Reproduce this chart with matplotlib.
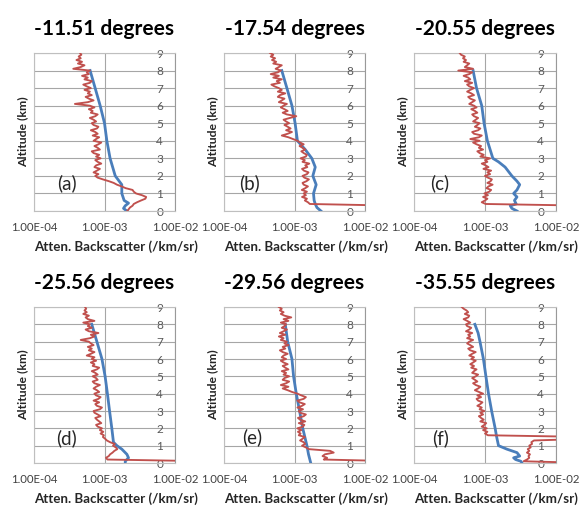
import matplotlib
matplotlib.use("Agg")
import matplotlib.pyplot as plt
import numpy as np

# Altitude grid for the noisy (red) profiles, km
ALT = [0.0, 0.1, 0.2, 0.3, 0.4, 0.5, 0.6, 0.7, 0.8, 0.9,
       1.0, 1.1, 1.2, 1.3, 1.4, 1.5, 1.6, 1.7, 1.8, 1.9,
       2.0, 2.1, 2.2, 2.3, 2.4, 2.5, 2.6, 2.7, 2.8, 2.9,
       3.0, 3.1, 3.2, 3.3, 3.4, 3.5, 3.6, 3.7, 3.8, 3.9,
       4.0, 4.1, 4.2, 4.3, 4.4, 4.5, 4.6, 4.7, 4.8, 4.9,
       5.0, 5.1, 5.2, 5.3, 5.4, 5.5, 5.6, 5.7, 5.8, 5.9,
       6.0, 6.1, 6.2, 6.3, 6.4, 6.5, 6.6, 6.7, 6.8, 6.9,
       7.0, 7.1, 7.2, 7.3, 7.4, 7.5, 7.6, 7.7, 7.8, 7.9,
       8.0, 8.1, 8.2, 8.3, 8.4, 8.5, 8.6, 8.7, 8.8, 8.9, 9.0]

# Red (measured) attenuated backscatter, units of 1e-3 /km/sr
red_a = [2.1, 2.2, 2.3, 2.5, 2.6, 2.9, 3.3, 3.8, 3.9, 3.4,
         2.8, 2.6, 2.5, 2.0, 1.75, 1.5, 1.35, 1.15, 0.95, 0.8,
         0.74, 0.82, 0.7, 0.78, 0.86, 0.72, 0.76, 0.9, 0.8, 0.74,
         0.88, 0.76, 0.84, 0.7, 0.66, 0.86, 0.8, 0.72, 0.82, 0.9,
         0.7, 0.76, 0.84, 0.68, 0.8, 0.74, 0.64, 0.78, 0.82, 0.7,
         0.66, 0.76, 0.7, 0.62, 0.74, 0.8, 0.64, 0.68, 0.6, 0.72,
         0.62, 0.38, 0.58, 0.7, 0.6, 0.54, 0.66, 0.58, 0.62, 0.52,
         0.64, 0.56, 0.5, 0.62, 0.66, 0.52, 0.58, 0.48, 0.6, 0.56,
         0.62, 0.36, 0.46, 0.52, 0.42, 0.48, 0.4, 0.46, 0.43, 0.47, 0.45]
red_b = [30, 30, 30, 30, 1.65, 1.55, 1.4, 1.5, 1.28, 1.45,
         1.35, 1.5, 1.27, 1.42, 1.55, 1.35, 1.3, 1.48, 1.6, 1.38,
         1.3, 1.5, 1.58, 1.36, 1.28, 1.52, 1.42, 1.62, 1.3, 1.4,
         1.22, 1.45, 1.5, 1.35, 1.25, 1.42, 1.3, 1.18, 1.35, 1.2,
         1.1, 0.95, 0.82, 0.66, 0.8, 0.92, 0.76, 0.88, 0.8, 0.72,
         0.84, 0.76, 0.7, 0.86, 1.06, 0.78, 0.68, 0.8, 0.72, 0.64,
         0.7, 0.78, 0.6, 0.66, 0.72, 0.58, 0.62, 0.74, 0.58, 0.66,
         0.6, 0.52, 0.47, 0.62, 0.56, 0.66, 0.5, 0.6, 0.46, 0.58,
         0.64, 0.54, 0.6, 0.66, 0.5, 0.55, 0.48, 0.53, 0.46, 0.5, 0.45]
red_c = [30, 30, 30, 30, 1.02, 0.9, 1.0, 1.08, 0.94, 1.1,
         0.98, 1.15, 1.22, 1.05, 1.12, 1.28, 1.08, 1.2, 1.25, 1.1,
         1.0, 1.18, 1.08, 1.22, 0.95, 1.12, 1.02, 0.9, 1.08, 1.0,
         1.18, 0.86, 0.96, 0.84, 0.78, 0.94, 0.82, 0.88, 0.76, 0.68,
         0.84, 0.62, 0.82, 0.9, 0.7, 0.66, 0.8, 0.86, 0.72, 0.78,
         0.84, 0.68, 0.74, 0.8, 0.7, 0.66, 0.78, 0.72, 0.64, 0.76,
         0.7, 0.6, 0.66, 0.72, 0.62, 0.58, 0.7, 0.64, 0.56, 0.62,
         0.7, 0.6, 0.56, 0.66, 0.52, 0.62, 0.58, 0.5, 0.6, 0.66,
         0.42, 0.68, 0.52, 0.56, 0.6, 0.5, 0.54, 0.49, 0.52, 0.46, 0.44]
red_d = [30, 30, 1.1, 1.05, 1.15, 1.2, 1.3, 1.38, 1.52, 1.45,
         1.32, 1.4, 1.2, 1.08, 1.02, 0.95, 0.98, 0.88, 0.96, 0.86,
         0.92, 0.8, 0.76, 0.9, 0.84, 0.78, 0.74, 0.88, 0.8, 0.72,
         0.7, 0.86, 0.92, 0.78, 0.74, 0.84, 0.7, 0.82, 0.88, 0.76,
         0.72, 0.84, 0.78, 0.7, 0.76, 0.86, 0.72, 0.68, 0.8, 0.76,
         0.68, 0.8, 0.74, 0.66, 0.78, 0.84, 0.68, 0.72, 0.64, 0.76,
         0.66, 0.72, 0.56, 0.64, 0.72, 0.6, 0.66, 0.58, 0.7, 0.64,
         0.6, 0.46, 0.62, 0.72, 0.64, 0.82, 0.6, 0.54, 0.66, 0.58,
         0.62, 0.5, 0.72, 0.58, 0.54, 0.6, 0.5, 0.56, 0.52, 0.55, 0.53]
red_e = [30, 30, 2.6, 2.9, 2.5, 2.7, 3.6, 3.2, 1.6, 1.45,
         1.28, 1.42, 1.35, 1.2, 1.3, 1.4, 1.15, 1.22, 1.12, 1.25,
         1.1, 1.32, 1.38, 1.15, 1.42, 1.2, 1.12, 1.35, 1.45, 1.2,
         1.15, 1.32, 1.1, 1.28, 1.4, 1.18, 1.1, 1.35, 1.45, 1.25,
         1.1, 0.92, 0.8, 0.68, 0.82, 0.64, 0.76, 0.84, 0.68, 0.72,
         0.84, 0.7, 0.76, 0.66, 0.82, 0.74, 0.68, 0.8, 0.7, 0.64,
         0.76, 0.66, 0.7, 0.8, 0.68, 0.62, 0.74, 0.68, 0.82, 0.72,
         0.78, 0.64, 0.7, 0.6, 0.74, 0.62, 0.7, 0.78, 0.66, 0.72,
         0.76, 0.64, 0.82, 0.7, 0.9, 0.72, 0.64, 0.7, 0.62, 0.66, 0.6]
red_f = [30, 3.5, 3.9, 4.2, 4.1, 4.3, 3.9, 4.2, 4.0, 4.4,
         4.2, 4.6, 4.5, 4.9, 30, 30, 1.1, 1.0, 1.08, 0.94,
         1.06, 0.9, 0.98, 1.04, 0.86, 0.96, 0.88, 0.82, 0.94, 0.86,
         0.98, 0.84, 0.9, 0.78, 0.86, 0.92, 0.8, 0.76, 0.88, 0.78,
         0.94, 0.82, 0.72, 0.8, 0.86, 0.74, 0.68, 0.78, 0.72, 0.66,
         0.74, 0.8, 0.66, 0.7, 0.76, 0.64, 0.7, 0.62, 0.68, 0.74,
         0.64, 0.7, 0.6, 0.66, 0.74, 0.62, 0.58, 0.68, 0.62, 0.56,
         0.6, 0.68, 0.56, 0.62, 0.58, 0.66, 0.54, 0.6, 0.64, 0.56,
         0.54, 0.62, 0.56, 0.5, 0.58, 0.6, 0.52, 0.58, 0.55, 0.5, 0.47]

# Blue (model) profiles: altitude (km) and value (1e-3 /km/sr)
blue_a_alt = [8.0, 7.0, 6.0, 5.0, 4.0, 3.0, 2.0, 1.5, 1.0, 0.6, 0.45, 0.3, 0.15, 0.0]
blue_a_val = [0.625, 0.737, 0.868, 1.0, 1.08, 1.2, 1.42, 1.76, 1.76, 1.9, 2.19, 1.97, 1.86, 2.08]
blue_b_alt = [8.0, 7.0, 6.0, 5.0, 4.0, 3.5, 3.0, 2.5, 2.0, 1.5, 1.0, 0.6, 0.4, 0.2, 0.0]
blue_b_val = [0.66, 0.78, 0.92, 1.02, 1.1, 1.42, 1.76, 1.97, 1.82, 2.03, 1.86, 1.9, 1.97, 2.08, 2.37]
blue_c_alt = [8.0, 7.0, 6.0, 5.0, 4.0, 3.0, 2.8, 2.5, 2.0, 1.7, 1.5, 1.2, 1.0, 0.8, 0.6, 0.4, 0.3, 0.15, 0.0]
blue_c_val = [0.68, 0.76, 0.9, 0.97, 1.08, 1.29, 1.55, 1.92, 2.39, 2.82, 3.08, 2.82, 2.53, 2.82, 2.6, 2.75, 2.27, 2.39, 2.82]
blue_d_alt = [8.0, 7.0, 6.0, 5.0, 4.0, 3.0, 2.0, 1.2, 1.0, 0.8, 0.5, 0.3, 0.1, 0.0]
blue_d_val = [0.66, 0.78, 0.92, 1.02, 1.1, 1.18, 1.27, 1.34, 1.5, 1.76, 2.08, 2.19, 1.97, 1.97]
blue_e_alt = [8.0, 7.0, 6.0, 5.0, 4.0, 3.0, 2.0, 1.0, 0.5, 0.0]
blue_e_val = [0.74, 0.8, 0.92, 0.97, 1.06, 1.18, 1.31, 1.5, 1.58, 1.7]
blue_f_alt = [8.0, 7.5, 7.0, 6.0, 5.0, 4.0, 3.0, 2.0, 1.5, 1.0, 0.8, 0.6, 0.4, 0.3, 0.2, 0.1, 0.0]
blue_f_val = [0.72, 0.8, 0.85, 0.95, 1.03, 1.12, 1.24, 1.39, 1.46, 1.55, 2.03, 2.82, 3.08, 2.53, 2.7, 3.2, 3.32]

titles = ["-11.51 degrees", "-17.54 degrees", "-20.55 degrees",
          "-25.56 degrees", "-29.56 degrees", "-35.55 degrees"]
panel_tags = ["(a)", "(b)", "(c)", "(d)", "(e)", "(f)"]
xticks = [1e-4, 1e-3, 1e-2]
xtick_labels = ["1.00E-04", "1.00E-03", "1.00E-02"]
yticks = [0, 1, 2, 3, 4, 5, 6, 7, 8, 9]
xlabel = "Atten. Backscatter (/km/sr)"
ylabel = "Altitude (km)"

reds = [red_a, red_b, red_c, red_d, red_e, red_f]
blues = [(blue_a_alt, blue_a_val), (blue_b_alt, blue_b_val), (blue_c_alt, blue_c_val),
         (blue_d_alt, blue_d_val), (blue_e_alt, blue_e_val), (blue_f_alt, blue_f_val)]
UNIT = 1e-3

plt.rcParams['font.family'] = ['Lato', 'DejaVu Sans']

W, H = 579, 507
fig = plt.figure(figsize=(W / 100, H / 100), dpi=100)

# plot-area pixel boxes (left, top, right, bottom)
boxes = [(34, 53, 175, 211), (224, 53, 365, 211), (414, 53, 556, 211),
         (34, 307, 175, 463), (224, 307, 365, 463), (414, 307, 556, 463)]
tag_pos = [(0.234, 0.177), (0.184, 0.177), (0.183, 0.177),
           (0.234, 0.16), (0.20, 0.167), (0.19, 0.16)]

RED = "#c0504d"
BLUE = "#4a7ebb"
GRID = "#a6a6a6"
TXT = "#404040"

for i, (l, t, r, b) in enumerate(boxes):
    ax = fig.add_axes([l / W, 1 - b / H, (r - l) / W, (b - t) / H])
    ax.set_xscale('log')
    balt, bval = blues[i]
    ax.plot(np.array(bval) * UNIT, balt, color=BLUE, lw=2.0, zorder=3)
    ax.plot(np.array(reds[i]) * UNIT, ALT, color=RED, lw=1.35, zorder=4)
    ax.set_xlim(1e-4, 1e-2)
    ax.set_ylim(0, 9)
    ax.set_xticks(xticks)
    ax.set_xticklabels(xtick_labels)
    ax.xaxis.set_minor_locator(matplotlib.ticker.NullLocator())
    ax.set_yticks(yticks)
    ax.grid(True, axis='both', color=GRID, lw=0.8)
    ax.set_axisbelow(True)
    for s in ax.spines.values():
        s.set_color("#bfbfbf")
        s.set_linewidth(0.8)
    ax.spines['right'].set_color("#999999")
    ax.yaxis.tick_right()
    ax.tick_params(axis='y', length=0, pad=-11, labelsize=8.5, labelcolor="#595959")
    for lb in ax.get_yticklabels():
        lb.set_horizontalalignment('center')
    ax.tick_params(axis='x', length=0, pad=8, labelsize=8.2, labelcolor=TXT)
    ax.set_title(titles[i], fontsize=15, fontweight='bold', pad=13)
    ax.set_xlabel(xlabel, fontsize=9.6, fontweight='bold', color="#262626")
    ax.xaxis.set_label_coords(0.58, -0.228)
    ax.xaxis.label.set_va('center')
    ax.set_ylabel(ylabel, fontsize=8.8, fontweight='bold', color="#262626")
    ax.yaxis.set_label_position('left')
    ax.yaxis.set_label_coords(-0.078, 0.5)
    ax.yaxis.label.set_va('center')
    ax.text(tag_pos[i][0], tag_pos[i][1], panel_tags[i], transform=ax.transAxes,
            fontsize=13.5, ha='center', va='center', color="#262626")

fig.savefig("out.png", dpi=100, facecolor='white')
